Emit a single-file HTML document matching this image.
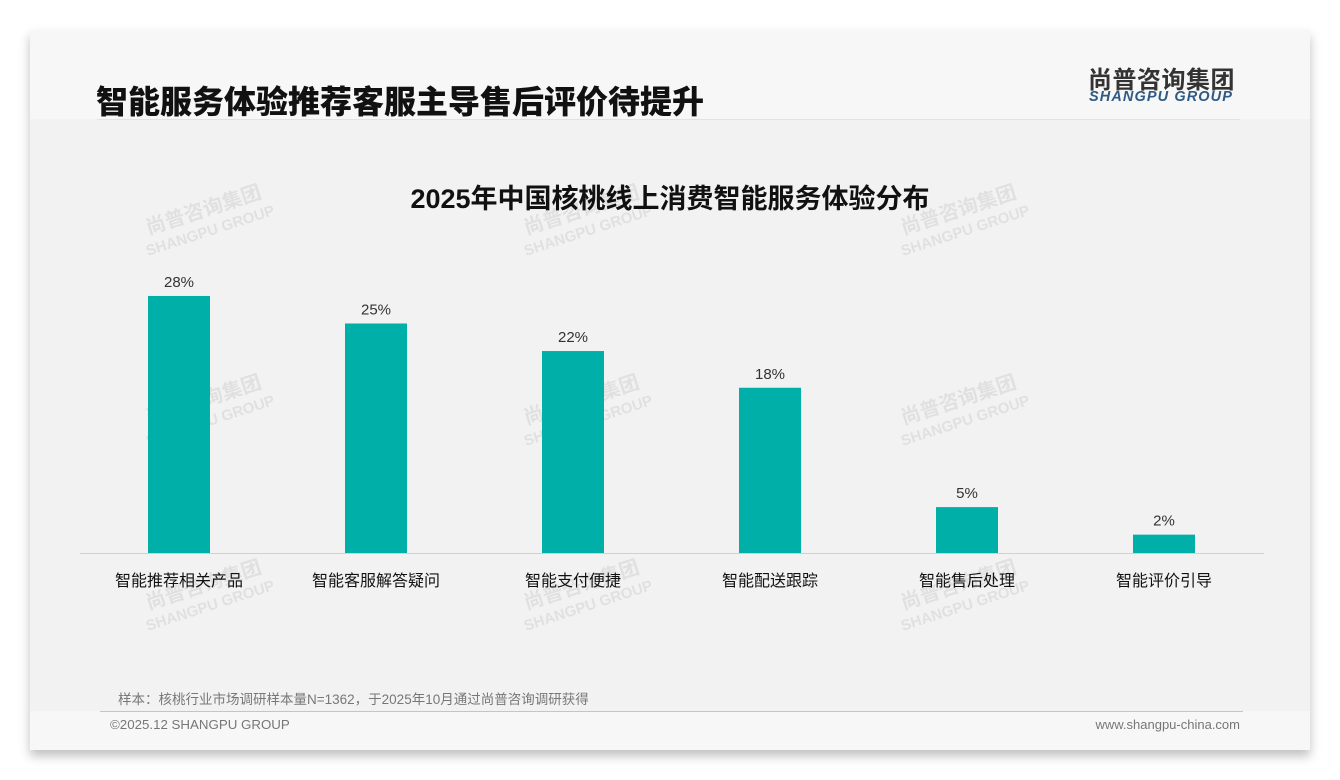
<!DOCTYPE html>
<html><head><meta charset="utf-8"><style>
body{margin:0;width:1340px;height:780px;background:#fff;position:relative;font-family:"Liberation Sans","Noto Sans CJK SC",sans-serif;overflow:hidden}
.card{position:absolute;left:30px;top:30px;width:1280px;height:720px;background:#f7f7f7;box-shadow:0 6px 10px rgba(0,0,0,.25)}
.area{position:absolute;left:30px;top:119px;width:1280px;height:592px;background:#f2f2f2}
.t{position:absolute;white-space:nowrap}
.wm{position:absolute;color:rgba(0,0,0,.07);font-weight:bold;transform:rotate(-18deg);font-size:20px;line-height:20px;text-align:center}
</style></head><body>
<div class="card"></div>
<div class="area"></div>
<div class="t" style="left:96px;top:77px;font-size:32px;font-weight:900;color:#111">智能服务体验推荐客服主导售后评价待提升</div>
<div class="t" style="left:1088px;top:60px;font-size:24px;font-weight:bold;color:#333;letter-spacing:0.5px">尚普咨询集团</div>
<div class="t" style="left:1089px;top:89px;font-size:14.5px;font-weight:bold;font-style:italic;color:#2e5a86;letter-spacing:1.1px">SHANGPU GROUP</div>
<div style="position:absolute;left:97px;top:119px;width:1143px;height:1px;background:#e2e2e2"></div>
<div class="t" style="left:0;width:1340px;text-align:center;top:177px;font-size:27px;font-weight:bold;color:#111">2025年中国核桃线上消费智能服务体验分布</div>
<div id="wms"></div>
<svg id="chart" width="1340" height="780" style="position:absolute;left:0;top:0"></svg>
<div class="t" style="left:118px;top:688px;font-size:13.5px;color:#777">样本：核桃行业市场调研样本量N=1362，于2025年10月通过尚普咨询调研获得</div>
<div style="position:absolute;left:100px;top:711px;width:1143px;height:1px;background:#b8c8d8"></div>
<div class="t" style="left:110px;top:717px;font-size:13.3px;color:#777">©2025.12 SHANGPU GROUP</div>
<div class="t" style="right:100px;top:717px;font-size:13px;color:#777">www.shangpu-china.com</div>
<script>
const categories=["智能推荐相关产品","智能客服解答疑问","智能支付便捷","智能配送跟踪","智能售后处理","智能评价引导"];
const values=[28,25,22,18,5,2];
const labels=["28%","25%","22%","18%","5%","2%"];
const NS="http://www.w3.org/2000/svg";
const svg=document.getElementById("chart");
const baseY=553,scale=9.18,x0=179,step=197,bw=62;
const xPos=i=>x0+i*step;
const yPos=v=>baseY-v*scale;
const ax=document.createElementNS(NS,"line");


ax.setAttribute("x1",80);ax.setAttribute("x2",1264);ax.setAttribute("y1",baseY+0.5);ax.setAttribute("y2",baseY+0.5);ax.setAttribute("stroke","#d0d0d0");svg.appendChild(ax);
values.forEach((v,i)=>{
 const r=document.createElementNS(NS,"rect");
 
 
 r.setAttribute("x",xPos(i)-bw/2);r.setAttribute("y",yPos(v));r.setAttribute("width",bw);r.setAttribute("height",v*scale);r.setAttribute("fill","#00b0a8");svg.appendChild(r);
 const t=document.createElementNS(NS,"text");
 
 
 t.setAttribute("x",xPos(i));t.setAttribute("y",yPos(v)-9);t.setAttribute("text-anchor","middle");t.setAttribute("font-size","15");t.setAttribute("fill","#333");t.textContent=labels[i];svg.appendChild(t);
 const c=document.createElementNS(NS,"text");
 
 
 c.setAttribute("x",xPos(i));c.setAttribute("y",586);c.setAttribute("text-anchor","middle");c.setAttribute("font-size","16");c.setAttribute("fill","#111");c.textContent=categories[i];svg.appendChild(c);
});
const w=document.getElementById("wms");
[[140,200],[518,200],[895,200],[140,390],[518,390],[895,390],[140,575],[518,575],[895,575]].forEach(p=>{
 const d=document.createElement("div");d.className="wm";
 
 
 d.style.left=p[0]+"px";d.style.top=p[1]+"px";
 d.innerHTML="尚普咨询集团<br><span style='font-size:15px'>SHANGPU GROUP</span>";w.appendChild(d);
});
</script>
</body></html>
